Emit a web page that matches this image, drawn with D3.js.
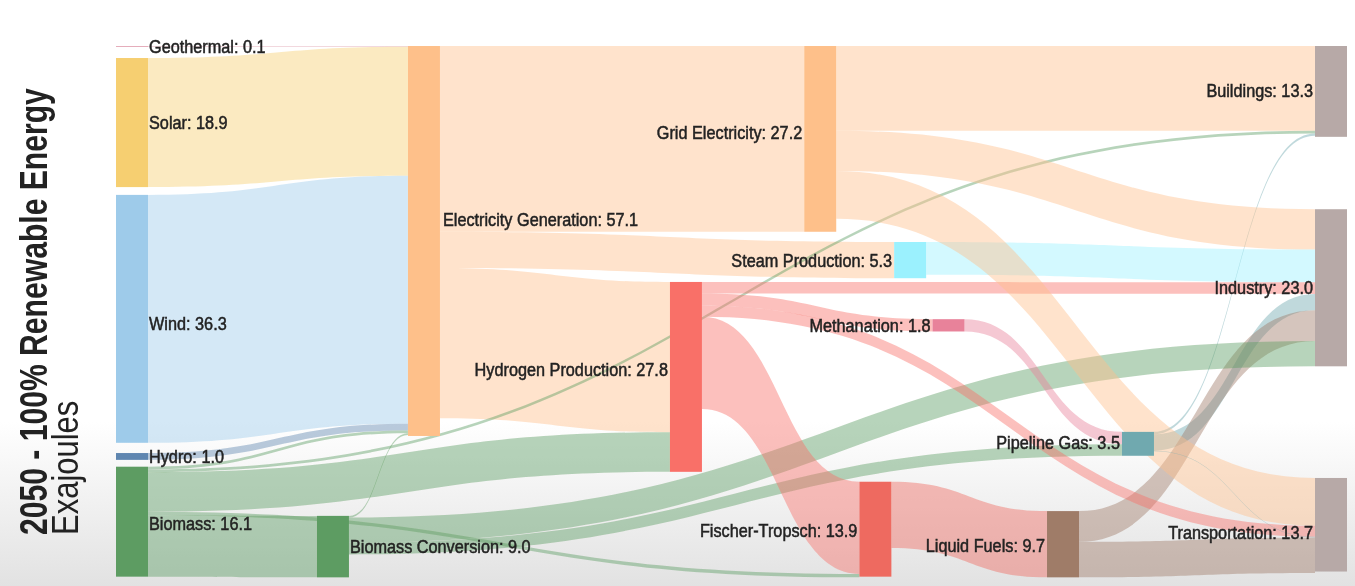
<!DOCTYPE html>
<html>
<head>
<meta charset="utf-8">
<script src="https://cdn.jsdelivr.net/npm/d3@7"></script>
<style>
  body { margin: 0; background: #fff; overflow: hidden; }
  text { font-family: "Liberation Sans", Arial, sans-serif; fill: #222; }
  .label { font-size: 17.5px; stroke: #222; stroke-width: 0.5px; }
</style>
</head>
<body>
<svg id="chart" width="1355" height="586"></svg>
<script>
// nodes
var nodeNames = ["Geothermal", "Solar", "Wind", "Hydro", "Biomass", "Biomass Conversion",
  "Electricity Generation", "Hydrogen Production", "Grid Electricity", "Fischer-Tropsch",
  "Steam Production", "Methanation", "Liquid Fuels", "Pipeline Gas",
  "Buildings", "Industry", "Transportation"]
var nodeValues = [0.1, 18.9, 36.3, 1.0, 16.1, 9.0, 57.1, 27.8, 27.2, 13.9, 5.3, 1.8, 9.7, 3.5, 13.3, 23.0, 13.7]

// links, order here is also the stacking order on each node
var linkSource = ["Geothermal", "Solar", "Wind", "Hydro", "Biomass", "Biomass Conversion",
  "Electricity Generation", "Electricity Generation", "Electricity Generation",
  "Grid Electricity", "Biomass", "Biomass", "Pipeline Gas",
  "Grid Electricity", "Steam Production", "Hydrogen Production", "Pipeline Gas", "Liquid Fuels", "Biomass Conversion",
  "Hydrogen Production", "Methanation", "Biomass Conversion",
  "Grid Electricity", "Hydrogen Production", "Pipeline Gas", "Liquid Fuels",
  "Hydrogen Production", "Biomass", "Fischer-Tropsch", "Biomass"]
var linkTarget = ["Electricity Generation", "Electricity Generation", "Electricity Generation", "Electricity Generation", "Electricity Generation", "Electricity Generation",
  "Grid Electricity", "Steam Production", "Hydrogen Production",
  "Buildings", "Buildings", "Hydrogen Production", "Buildings",
  "Industry", "Industry", "Industry", "Industry", "Industry", "Industry",
  "Methanation", "Pipeline Gas", "Pipeline Gas",
  "Transportation", "Transportation", "Transportation", "Transportation",
  "Fischer-Tropsch", "Fischer-Tropsch", "Liquid Fuels", "Biomass Conversion"]
var linkValues = [0.1, 18.9, 36.3, 1.0, 0.4, 0.25,
  27.2, 5.3, 22.0,
  12.4, 0.4, 5.8, 0.35,
  5.9, 4.8, 1.7, 2.4, 4.5, 3.7,
  1.8, 1.8, 1.7,
  7.0, 1.6, 0.1, 5.2,
  13.5, 0.5, 9.7, 9.0]

// layout: column as share of the width, top as exajoules below the top edge
var nodeColumn = [0, 0, 0, 0, 0, 0.1676, 0.2435, 0.462, 0.574, 0.62, 0.649, 0.681, 0.7765, 0.839, 1, 1, 1]
var nodeTop = [0, 1.76, 21.8, 59.6, 61.6, 68.8, 0, 34.55, 0, 63.8, 28.7, 40.0, 68.1, 56.5, 0, 23.9, 63.25]
var labelRight = ["Geothermal", "Solar", "Wind", "Hydro", "Biomass", "Biomass Conversion", "Electricity Generation"]
var labelShift = [2, 2, 7, 2, 4, 2, -20, -6, -5, 3, 2, 2, 3, 1, 1, 2, 10]

var nodeColors = ["#d9889c", "#f6cf71", "#9ecbea", "#5f86b0", "#5d9c62", "#5d9c62",
  "#fec08a", "#f96f68", "#fec08a", "#ee6a60", "#9bf1fe", "#e8829a", "#9f7b68", "#6fa9af",
  "#b7a9a7", "#b7a9a7", "#b7a9a7"]

var svg = d3.select("#chart")
var nodeWidth = 32
var x = d3.scaleLinear().domain([0, 1]).range([116, 1315])
var y = d3.scaleLinear().domain([0, 77.75]).range([46, 577])
var thickness = function(v) { return y(v) - y(0) }

// soft grey shadow at the bottom of the frame
var defs = svg.append("defs")
var grad = defs.append("linearGradient").attr("id", "fade").attr("x1", 0).attr("x2", 0).attr("y1", 0).attr("y2", 1)
grad.append("stop").attr("offset", "72%").attr("stop-color", "#fff")
grad.append("stop").attr("offset", "100%").attr("stop-color", "#e2e2e2")
defs.append("filter").attr("id", "soft").append("feGaussianBlur").attr("stdDeviation", 0.5)
svg.append("rect").attr("width", 1355).attr("height", 586).attr("fill", "url(#fade)")

var nodes = nodeNames.map(function(name, i) {
  return {
    name: name, value: nodeValues[i], color: nodeColors[i],
    x0: x(nodeColumn[i]), y0: y(nodeTop[i]), y1: y(nodeTop[i] + nodeValues[i]),
    shift: labelShift[i], outY: y(nodeTop[i]), inY: y(nodeTop[i])
  }
})
var byName = new Map(nodes.map(function(d) { return [d.name, d] }))

var links = linkValues.map(function(v, i) {
  var s = byName.get(linkSource[i]), t = byName.get(linkTarget[i]), w = thickness(v)
  var l = { source: s, target: t, width: w, sy: s.outY, ty: t.inY }
  s.outY += w
  t.inY += w
  return l
})

function ribbon(l) {
  var x0 = l.source.x0 + nodeWidth, x1 = l.target.x0, mid = (x0 + x1) / 2
  var top = d3.path(), a = l.sy, b = l.ty, w = l.width
  top.moveTo(x0, a)
  top.bezierCurveTo(mid, a, mid, b, x1, b)
  top.lineTo(x1, b + w)
  top.bezierCurveTo(mid, b + w, mid, a + w, x0, a + w)
  top.closePath()
  return top.toString()
}

var g = svg.append("g").attr("filter", "url(#soft)")

g.append("g").selectAll("path")
  .data(links)
  .enter().append("path")
    .attr("d", ribbon)
    .attr("fill", function(d) { return d.source.color })
    .attr("fill-opacity", 0.44)

g.append("g").selectAll("rect")
  .data(nodes)
  .enter().append("rect")
    .attr("x", function(d) { return d.x0 })
    .attr("y", function(d) { return d.y0 })
    .attr("width", nodeWidth)
    .attr("height", function(d) { return d.y1 - d.y0 })
    .attr("fill", function(d) { return d.color })

var labelScale = 0.93
g.append("g").selectAll("text")
  .data(nodes)
  .enter().append("text")
    .attr("class", "label")
    .attr("dominant-baseline", "middle")
    .attr("text-anchor", function(d) { return labelRight.indexOf(d.name) >= 0 ? "start" : "end" })
    .attr("transform", function(d) {
      var right = labelRight.indexOf(d.name) >= 0
      var lx = right ? d.x0 + nodeWidth + (d.name == "Electricity Generation" ? 3 : 1) : d.x0 - 2
      return "translate(" + lx + "," + ((d.y0 + d.y1) / 2 + d.shift) + ") scale(" + labelScale + ",1)"
    })
    .text(function(d) { return d.name + ": " + d.value.toFixed(1) })

g.append("text")
  .attr("transform", "translate(47,535) rotate(-90) scale(0.941,1.2)")
  .style("font-size", "32px").style("font-weight", "bold")
  .text("2050 - 100% Renewable Energy")
g.append("text")
  .attr("transform", "translate(78,535) rotate(-90) scale(1,1.17)")
  .style("font-size", "31px")
  .text("Exajoules")
</script>
</body>
</html>
